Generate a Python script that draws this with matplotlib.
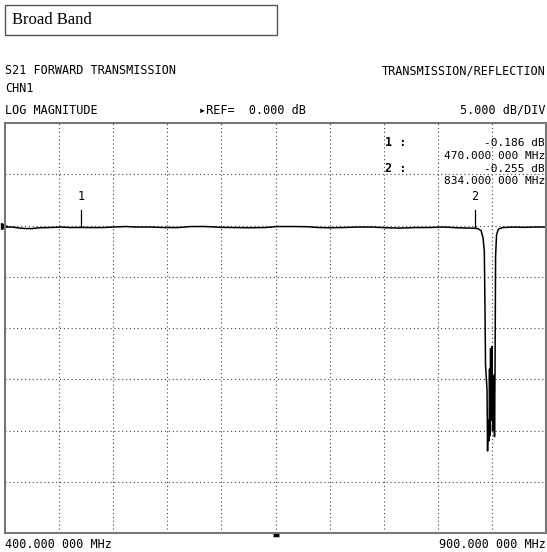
import matplotlib.pyplot as plt
from matplotlib.patches import Rectangle

# trace: frequency (MHz) and S21 (dB)
freq_mhz = [400, 407, 413, 420, 425, 432, 440, 446, 452, 460, 470, 478, 490, 500,
            512, 520, 535, 548, 560, 572, 585, 600, 612, 625, 640, 652, 665, 680,
            690, 700, 712, 725, 740, 752, 765, 780, 792, 805, 818, 826, 834, 837,
            840, 841.8, 843.0, 843.6, 844.1, 845.5, 846, 846.4, 847.4, 847.8, 848.3,
            848.8, 849.2, 850.2, 850.6, 851.5, 852, 852.4, 852.9, 853.4, 854.3,
            856.0, 860, 870, 880, 890, 900]
s21_db = [-0.15, -0.15, -0.25, -0.3, -0.3, -0.22, -0.2, -0.18, -0.15, -0.2, -0.19,
          -0.2, -0.2, -0.15, -0.1, -0.15, -0.15, -0.2, -0.2, -0.1, -0.1, -0.18,
          -0.2, -0.22, -0.2, -0.1, -0.1, -0.12, -0.2, -0.22, -0.2, -0.15, -0.15,
          -0.22, -0.25, -0.2, -0.2, -0.15, -0.22, -0.25, -0.26, -0.3,
          -0.5, -1.2, -2.5, -8.0, -13.6, -16.0, -22.0, -19.0, -21.0, -14.0, -20.5,
          -12.0, -19.0, -11.8, -20.0, -17.0, -14.6, -20.6, -14.0, -3.0, -0.9,
          -0.35, -0.2, -0.15, -0.18, -0.15, -0.15]

# marker readouts
mk_names = ["1", "2"]
mk_freq = [470.0, 834.0]
mk_val = [-0.186, -0.255]

W, H = 547, 552
fig = plt.figure(figsize=(W / 100, H / 100), dpi=100)
mono = "DejaVu Sans Mono"


def px(x, y):
    return x / W, 1 - y / H


def ftext(x, y, s, ha="left", size=8.5, **kw):
    fig.text(*px(x, y), s, ha=ha, va="center", fontsize=size,
             family=mono, transform=fig.transFigure, **kw)


ax = fig.add_axes([5 / W, 1 - 533 / H, 541 / W, 410 / H])
ax.plot(freq_mhz, s21_db, color="black", lw=1.1)
ax.set_xlim(400, 900)
ax.set_ylim(-30, 10)
ax.set_xticks([400 + 50 * i for i in range(1, 10)])
ax.set_yticks([10 - 5 * i for i in range(1, 8)])
ax.grid(True, color="#444444", ls=(0, (1, 2.5)), lw=0.8)
ax.tick_params(length=0, labelbottom=False, labelleft=False)
for s in ax.spines.values():
    s.set_color("#777777")
    s.set_linewidth(1.5)

# marker ticks and labels
for name, f, v in zip(mk_names, mk_freq, mk_val):
    ax.plot([f, f], [v, 1.5], color="black", lw=0.9)
    ax.text(f, 2.2, name, ha="center", va="bottom", fontsize=8.5, family=mono)

# reference position arrow at left edge, center marker below the bottom edge
ax.plot([399.2], [0], marker=">", color="black", ms=4, clip_on=False)
ax.plot([648, 653], [-30.2, -30.2], color="black", lw=2.5, clip_on=False,
        solid_capstyle="butt")

# title box
fig.patches.append(Rectangle(px(5, 35), 272 / W, 30 / H, transform=fig.transFigure,
                             fill=False, edgecolor="#555555", lw=1.0))
fig.text(*px(12, 20), "Broad Band", ha="left", va="center", fontsize=12,
         family="Liberation Serif", transform=fig.transFigure)

ftext(5, 71, "S21 FORWARD TRANSMISSION")
ftext(546, 71, "TRANSMISSION/REFLECTION", ha="right")
ftext(5, 88, "CHN1")
ftext(5, 110, "LOG MAGNITUDE")
ftext(199, 110, "\u25b8REF=  0.000 dB")
ftext(546, 110, "5.000 dB/DIV", ha="right")

ftext(385, 143, "1 :", weight="bold")
ftext(385, 168, "2 :", weight="bold")
ftext(545, 143, "%.3f dB" % mk_val[0], ha="right", size=8)
ftext(545, 156, "%.3f 000 MHz" % mk_freq[0], ha="right", size=8)
ftext(545, 169, "%.3f dB" % mk_val[1], ha="right", size=8)
ftext(545, 181, "%.3f 000 MHz" % mk_freq[1], ha="right", size=8)

ftext(5, 545, "400.000 000 MHz")
ftext(546, 545, "900.000 000 MHz", ha="right")

fig.savefig("out.png", dpi=100)
